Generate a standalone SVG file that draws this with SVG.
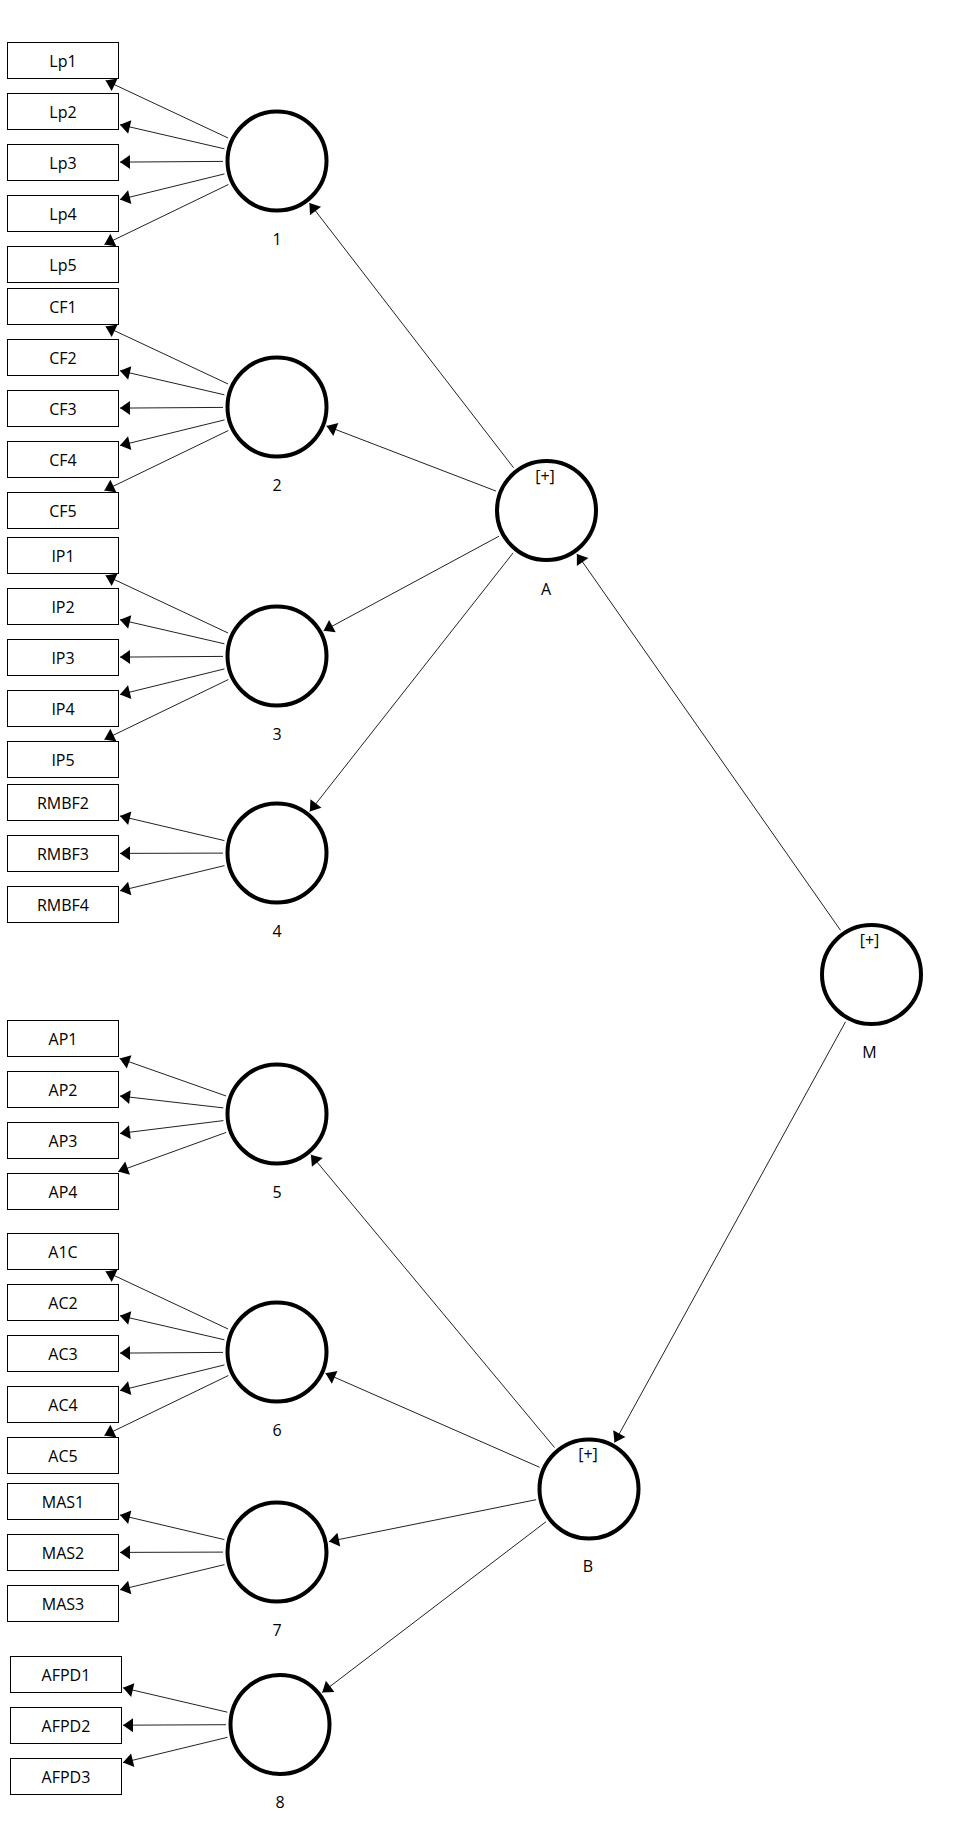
<svg xmlns="http://www.w3.org/2000/svg" width="954" height="1821" viewBox="0 0 954 1821">
<style>
.box{fill:#fff;stroke:#000;stroke-width:1}
.lv{fill:#fff;stroke:#000;stroke-width:4}
.t{font-family:"Open Sans","Noto Sans","DejaVu Sans",sans-serif;font-size:16px;fill:#000;text-anchor:middle}
.c line{stroke:#222;stroke-width:1;marker-end:url(#ah)}
</style>
<defs>
<marker id="ah" markerUnits="userSpaceOnUse" viewBox="-11 -8 12 16" refX="0" refY="0" markerWidth="12" markerHeight="16" orient="auto">
<path d="M0,0 L-10,-7 L-10,7 Z" fill="#000"/>
</marker>
</defs>
<rect width="954" height="1821" fill="#fff"/>
<g id="connectors" class="c">
<line x1="228.1" y1="138.0" x2="105.6" y2="80.5"/>
<line x1="224.4" y1="148.8" x2="120" y2="124.7"/>
<line x1="223.0" y1="161.4" x2="120" y2="162.1"/>
<line x1="224.5" y1="173.9" x2="120" y2="199.5"/>
<line x1="228.4" y1="184.5" x2="104.4" y2="244.5"/>
<line x1="228.1" y1="384.0" x2="105.6" y2="326.5"/>
<line x1="224.4" y1="394.8" x2="120" y2="370.7"/>
<line x1="223.0" y1="407.4" x2="120" y2="408.1"/>
<line x1="224.5" y1="419.9" x2="120" y2="445.5"/>
<line x1="228.4" y1="430.5" x2="104.4" y2="490.5"/>
<line x1="228.1" y1="633.0" x2="105.6" y2="575.5"/>
<line x1="224.4" y1="643.8" x2="120" y2="619.7"/>
<line x1="223.0" y1="656.4" x2="120" y2="657.1"/>
<line x1="224.5" y1="668.9" x2="120" y2="694.5"/>
<line x1="228.4" y1="679.5" x2="104.4" y2="739.5"/>
<line x1="224.4" y1="840.6" x2="120" y2="816.0"/>
<line x1="223.0" y1="853.1" x2="120" y2="853.4"/>
<line x1="224.5" y1="865.6" x2="120" y2="890.8"/>
<line x1="226.1" y1="1096.0" x2="119.7" y2="1058.5"/>
<line x1="223.3" y1="1107.9" x2="120" y2="1096.0"/>
<line x1="223.4" y1="1120.6" x2="120" y2="1133.4"/>
<line x1="226.2" y1="1132.4" x2="118.2" y2="1171.5"/>
<line x1="228.1" y1="1329.0" x2="105.6" y2="1271.5"/>
<line x1="224.4" y1="1339.8" x2="120" y2="1315.7"/>
<line x1="223.0" y1="1352.4" x2="120" y2="1353.1"/>
<line x1="224.5" y1="1364.9" x2="120" y2="1390.5"/>
<line x1="228.4" y1="1375.5" x2="104.4" y2="1435.5"/>
<line x1="224.4" y1="1539.6" x2="120" y2="1515.0"/>
<line x1="223.0" y1="1552.1" x2="120" y2="1552.4"/>
<line x1="224.5" y1="1564.6" x2="120" y2="1589.8"/>
<line x1="227.4" y1="1712.2" x2="123" y2="1687.8"/>
<line x1="226.0" y1="1724.7" x2="123" y2="1725.2"/>
<line x1="227.5" y1="1737.3" x2="123" y2="1762.6"/>
<line x1="513.5" y1="467.7" x2="309.4" y2="203.0"/>
<line x1="496.1" y1="491.1" x2="326.5" y2="426.0"/>
<line x1="499.0" y1="536.2" x2="323.6" y2="630.8"/>
<line x1="513.1" y1="552.9" x2="309.8" y2="811.4"/>
<line x1="840.5" y1="930.3" x2="576.9" y2="553.9"/>
<line x1="845.5" y1="1021.8" x2="614.5" y2="1442.5"/>
<line x1="554.5" y1="1447.5" x2="310.9" y2="1154.7"/>
<line x1="539.6" y1="1467.3" x2="325.5" y2="1373.3"/>
<line x1="536.1" y1="1499.7" x2="329.0" y2="1541.5"/>
<line x1="546.0" y1="1521.7" x2="322.2" y2="1692.4"/>
</g>
<g id="Lp1"><rect class="box" x="7.5" y="42.5" width="111" height="36"/><text class="t" x="63" y="66.5">Lp1</text></g>
<g id="Lp2"><rect class="box" x="7.5" y="93.5" width="111" height="36"/><text class="t" x="63" y="117.5">Lp2</text></g>
<g id="Lp3"><rect class="box" x="7.5" y="144.5" width="111" height="36"/><text class="t" x="63" y="168.5">Lp3</text></g>
<g id="Lp4"><rect class="box" x="7.5" y="195.5" width="111" height="36"/><text class="t" x="63" y="219.5">Lp4</text></g>
<g id="Lp5"><rect class="box" x="7.5" y="246.5" width="111" height="36"/><text class="t" x="63" y="270.5">Lp5</text></g>
<g id="CF1"><rect class="box" x="7.5" y="288.5" width="111" height="36"/><text class="t" x="63" y="312.5">CF1</text></g>
<g id="CF2"><rect class="box" x="7.5" y="339.5" width="111" height="36"/><text class="t" x="63" y="363.5">CF2</text></g>
<g id="CF3"><rect class="box" x="7.5" y="390.5" width="111" height="36"/><text class="t" x="63" y="414.5">CF3</text></g>
<g id="CF4"><rect class="box" x="7.5" y="441.5" width="111" height="36"/><text class="t" x="63" y="465.5">CF4</text></g>
<g id="CF5"><rect class="box" x="7.5" y="492.5" width="111" height="36"/><text class="t" x="63" y="516.5">CF5</text></g>
<g id="IP1"><rect class="box" x="7.5" y="537.5" width="111" height="36"/><text class="t" x="63" y="561.5">IP1</text></g>
<g id="IP2"><rect class="box" x="7.5" y="588.5" width="111" height="36"/><text class="t" x="63" y="612.5">IP2</text></g>
<g id="IP3"><rect class="box" x="7.5" y="639.5" width="111" height="36"/><text class="t" x="63" y="663.5">IP3</text></g>
<g id="IP4"><rect class="box" x="7.5" y="690.5" width="111" height="36"/><text class="t" x="63" y="714.5">IP4</text></g>
<g id="IP5"><rect class="box" x="7.5" y="741.5" width="111" height="36"/><text class="t" x="63" y="765.5">IP5</text></g>
<g id="RMBF2"><rect class="box" x="7.5" y="784.5" width="111" height="36"/><text class="t" x="63" y="808.5">RMBF2</text></g>
<g id="RMBF3"><rect class="box" x="7.5" y="835.5" width="111" height="36"/><text class="t" x="63" y="859.5">RMBF3</text></g>
<g id="RMBF4"><rect class="box" x="7.5" y="886.5" width="111" height="36"/><text class="t" x="63" y="910.5">RMBF4</text></g>
<g id="AP1"><rect class="box" x="7.5" y="1020.5" width="111" height="36"/><text class="t" x="63" y="1044.5">AP1</text></g>
<g id="AP2"><rect class="box" x="7.5" y="1071.5" width="111" height="36"/><text class="t" x="63" y="1095.5">AP2</text></g>
<g id="AP3"><rect class="box" x="7.5" y="1122.5" width="111" height="36"/><text class="t" x="63" y="1146.5">AP3</text></g>
<g id="AP4"><rect class="box" x="7.5" y="1173.5" width="111" height="36"/><text class="t" x="63" y="1197.5">AP4</text></g>
<g id="A1C"><rect class="box" x="7.5" y="1233.5" width="111" height="36"/><text class="t" x="63" y="1257.5">A1C</text></g>
<g id="AC2"><rect class="box" x="7.5" y="1284.5" width="111" height="36"/><text class="t" x="63" y="1308.5">AC2</text></g>
<g id="AC3"><rect class="box" x="7.5" y="1335.5" width="111" height="36"/><text class="t" x="63" y="1359.5">AC3</text></g>
<g id="AC4"><rect class="box" x="7.5" y="1386.5" width="111" height="36"/><text class="t" x="63" y="1410.5">AC4</text></g>
<g id="AC5"><rect class="box" x="7.5" y="1437.5" width="111" height="36"/><text class="t" x="63" y="1461.5">AC5</text></g>
<g id="MAS1"><rect class="box" x="7.5" y="1483.5" width="111" height="36"/><text class="t" x="63" y="1507.5">MAS1</text></g>
<g id="MAS2"><rect class="box" x="7.5" y="1534.5" width="111" height="36"/><text class="t" x="63" y="1558.5">MAS2</text></g>
<g id="MAS3"><rect class="box" x="7.5" y="1585.5" width="111" height="36"/><text class="t" x="63" y="1609.5">MAS3</text></g>
<g id="AFPD1"><rect class="box" x="10.5" y="1656.5" width="111" height="36"/><text class="t" x="66" y="1680.5">AFPD1</text></g>
<g id="AFPD2"><rect class="box" x="10.5" y="1707.5" width="111" height="36"/><text class="t" x="66" y="1731.5">AFPD2</text></g>
<g id="AFPD3"><rect class="box" x="10.5" y="1758.5" width="111" height="36"/><text class="t" x="66" y="1782.5">AFPD3</text></g>
<g id="LV1"><circle class="lv" cx="277" cy="161" r="49.5"/><text class="t" x="277" y="245">1</text></g>
<g id="LV2"><circle class="lv" cx="277" cy="407" r="49.5"/><text class="t" x="277" y="491">2</text></g>
<g id="LV3"><circle class="lv" cx="277" cy="656" r="49.5"/><text class="t" x="277" y="740">3</text></g>
<g id="LV4"><circle class="lv" cx="277" cy="853" r="49.5"/><text class="t" x="277" y="937">4</text></g>
<g id="LV5"><circle class="lv" cx="277" cy="1114" r="49.5"/><text class="t" x="277" y="1198">5</text></g>
<g id="LV6"><circle class="lv" cx="277" cy="1352" r="49.5"/><text class="t" x="277" y="1436">6</text></g>
<g id="LV7"><circle class="lv" cx="277" cy="1552" r="49.5"/><text class="t" x="277" y="1636">7</text></g>
<g id="LV8"><circle class="lv" cx="280" cy="1724.5" r="49.5"/><text class="t" x="280" y="1808">8</text></g>
<g id="LVA"><circle class="lv" cx="546.5" cy="510.5" r="49.5"/><text class="t" x="545" y="482">[+]</text><text class="t" x="546" y="595">A</text></g>
<g id="LVM"><circle class="lv" cx="871.5" cy="974.5" r="49.5"/><text class="t" x="869.5" y="946">[+]</text><text class="t" x="869.5" y="1058">M</text></g>
<g id="LVB"><circle class="lv" cx="589" cy="1489" r="49.5"/><text class="t" x="588" y="1460">[+]</text><text class="t" x="588" y="1572">B</text></g>
</svg>
